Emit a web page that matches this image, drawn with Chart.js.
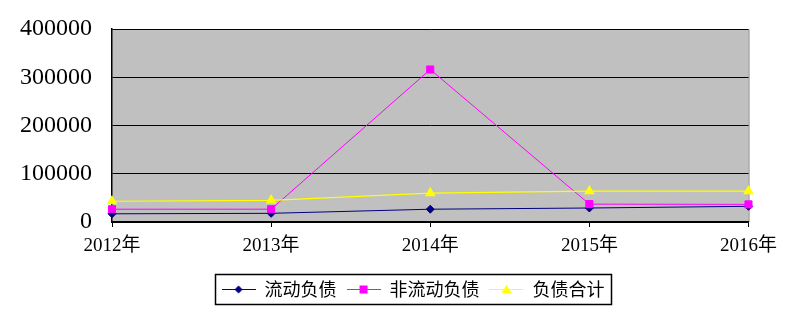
<!DOCTYPE html>
<html>
<head>
<meta charset="utf-8">
<script src="https://cdn.jsdelivr.net/npm/chart.js@4"></script>
<style>
  html, body { margin: 0; padding: 0; background: #fff; }
  #wrap { width: 785px; height: 331px; }
</style>
</head>
<body>
<div id="wrap"><canvas id="chart" width="785" height="331"></canvas></div>
<script>
// 数据
const years = ['2012年', '2013年', '2014年', '2015年', '2016年'];
const liudongFuzhai = [17000, 18000, 26500, 29000, 32500];
const feiLiudongFuzhai = [26500, 26500, 316000, 37000, 36500];
const fuzhaiHeji = [43000, 45000, 60000, 64000, 64000];
const yTicks = [0, 100000, 200000, 300000, 400000];

// 图例里的线+标记小图
function makeSample(color, style) {
    const c = document.createElement('canvas');
    c.width = 34; c.height = 12;
    const g = c.getContext('2d');
    g.strokeStyle = color;
    g.lineWidth = 1;
    g.beginPath();
    g.moveTo(0, 6.5); g.lineTo(34, 6.5);
    g.stroke();
    g.fillStyle = color;
    g.beginPath();
    if (style === 'diamond') {
        g.moveTo(17, 2.5); g.lineTo(21, 6.5); g.lineTo(17, 10.5); g.lineTo(13, 6.5);
    } else if (style === 'square') {
        g.rect(13, 2.5, 8, 8);
    } else {
        g.moveTo(17, 2); g.lineTo(22, 10); g.lineTo(12, 10);
    }
    g.closePath();
    g.fill();
    return c;
}

// 绘图区背景、边框，图例外框
const plotBg = {
    id: 'plotBg',
    afterLayout(chart) {
        // 图例整体右移一点
        chart.legend.left += 38;
        chart.legend.right += 38;
    },
    beforeDraw(chart) {
        const a = chart.chartArea;
        const ctx = chart.ctx;
        ctx.save();
        ctx.fillStyle = '#c0c0c0';
        ctx.fillRect(a.left, a.top, a.right - a.left, a.bottom - a.top);
        ctx.strokeStyle = '#808080';
        ctx.lineWidth = 1;
        ctx.beginPath();
        ctx.moveTo(a.left, a.top + 0.5);
        ctx.lineTo(a.right + 0.5, a.top + 0.5);
        ctx.lineTo(a.right + 0.5, a.bottom);
        ctx.stroke();
        ctx.restore();
    },
    afterDraw(chart) {
        const boxes = chart.legend.legendHitBoxes;
        if (!boxes || !boxes.length) return;
        const first = boxes[0], last = boxes[boxes.length - 1];
        const ctx = chart.ctx;
        ctx.save();
        ctx.strokeStyle = '#000';
        ctx.lineWidth = 1.5;
        const x1 = Math.round(first.left - 7), x2 = Math.round(last.left + last.width + 7);
        const y1 = Math.round(first.top - 6), y2 = Math.round(first.top + first.height + 6);
        ctx.strokeRect(x1 + 0.5, y1 + 0.5, x2 - x1, y2 - y1);
        ctx.restore();
    }
};

const ctx = document.getElementById('chart').getContext('2d');
new Chart(ctx, {
    type: 'line',
    data: {
        labels: years,
        datasets: [{
            label: '流动负债',
            data: liudongFuzhai,
            borderColor: '#000080',
            backgroundColor: '#000080',
            borderWidth: 1,
            pointStyle: 'rectRot',
            pointRadius: 4,
            order: 2
        }, {
            label: '非流动负债',
            data: feiLiudongFuzhai,
            borderColor: '#ff00ff',
            backgroundColor: '#ff00ff',
            borderWidth: 1,
            pointStyle: 'rect',
            pointRadius: 5,
            order: 1
        }, {
            label: '负债合计',
            data: fuzhaiHeji,
            borderColor: '#ffff00',
            backgroundColor: '#ffff00',
            borderWidth: 1.2,
            pointStyle: 'triangle',
            pointRadius: 5,
            order: 0
        }]
    },
    options: {
        responsive: false,
        animation: false,
        layout: { padding: { top: 29, right: 35, left: 0, bottom: 23 } },
        plugins: {
            tooltip: { enabled: false },
            legend: {
                position: 'bottom',
                labels: {
                    usePointStyle: true,
                    pointStyleWidth: 34,
                    padding: 10,
                    color: '#000',
                    font: { family: '"Noto Sans CJK SC"', size: 18 },
                    generateLabels(chart) {
                        const styles = ['diamond', 'square', 'triangle'];
                        return chart.data.datasets.map((ds, i) => ({
                            text: ds.label,
                            pointStyle: makeSample(ds.borderColor, styles[i]),
                            fillStyle: ds.borderColor,
                            strokeStyle: ds.borderColor,
                            lineWidth: 0,
                            datasetIndex: i,
                            fontColor: '#000'
                        }));
                    }
                }
            }
        },
        scales: {
            x: {
                offset: false,
                grid: { drawOnChartArea: false, drawTicks: true, tickLength: 5, color: '#000' },
                border: { display: true, color: '#000', width: 1.5 },
                ticks: {
                    color: '#000',
                    padding: 8,
                    maxRotation: 0,
                    font: { family: '"Liberation Serif", "Noto Sans CJK SC"', size: 19 }
                },
                afterFit(scale) { scale.height = 48; }
            },
            y: {
                min: 0,
                max: 400000,
                afterBuildTicks(scale) { scale.ticks = yTicks.map(v => ({ value: v })); },
                grid: { color: '#000', drawTicks: false, lineWidth: 1 },
                border: { display: true, color: '#000', width: 1.5 },
                ticks: {
                    color: '#000',
                    padding: 20,
                    callback: v => String(v),
                    font: { family: '"Liberation Serif"', size: 24 }
                },
                afterFit(scale) {
                    scale.width = 112;
                    scale.paddingTop = 0;
                    scale.paddingBottom = 0;
                }
            }
        }
    },
    plugins: [plotBg]
});
</script>
</body>
</html>
